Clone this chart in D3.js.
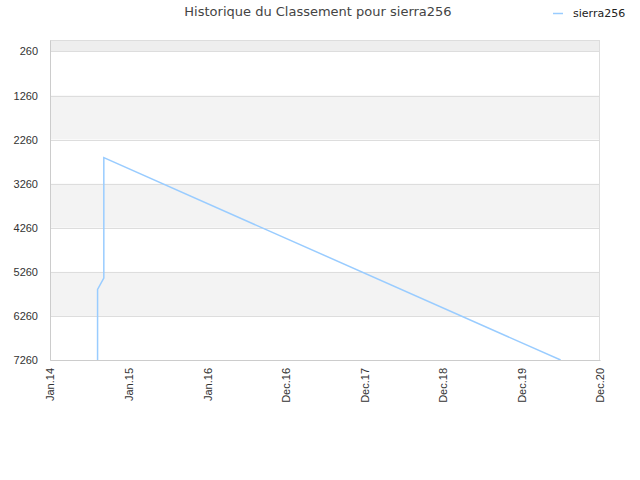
<!DOCTYPE html>
<html>
<head>
<meta charset="utf-8">
<script src="https://cdn.jsdelivr.net/npm/d3@7"></script>
<style>
  body { margin: 0; background: #fff; }
  svg { font-family: "DejaVu Sans", sans-serif; }
</style>
</head>
<body>
<div id="chart"></div>
<script>
// Rank history for sierra256 (lower rank = better, axis reversed)
const dates = ["2014-08-10", "2014-08-10", "2014-09-08", "2014-09-08", "2020-06-30"];
const ranks = [7260, 5660, 5400, 2670, 7260];
const yTicks = [260, 1260, 2260, 3260, 4260, 5260, 6260, 7260];
const xTickDates = ["2014-01-01", "2015-01-01", "2016-01-01", "2016-12-31", "2017-12-31", "2018-12-31", "2019-12-31", "2020-12-30"];
const xTickLabels = ["Jan.14", "Jan.15", "Jan.16", "Dec.16", "Dec.17", "Dec.18", "Dec.19", "Dec.20"];

const width = 640, height = 480;
const margin = { top: 40, right: 40, bottom: 120, left: 50 };
const parse = d3.utcParse("%Y-%m-%d");

const svg = d3.select("#chart").append("svg")
  .attr("width", width)
  .attr("height", height);

const x = d3.scaleUtc()
  .domain([parse(xTickDates[0]), parse(xTickDates[xTickDates.length - 1])])
  .range([margin.left, width - margin.right]);

const y = d3.scaleLinear()
  .domain([0, 7260])
  .range([margin.top, height - margin.bottom]);

// Background stripes
const bands = [[0, 260]];
for (let i = 0; i < yTicks.length - 1; i++) bands.push([yTicks[i], yTicks[i + 1]]);
svg.append("g").selectAll("rect")
  .data(bands)
  .enter().append("rect")
  .attr("x", margin.left)
  .attr("width", width - margin.right - margin.left)
  .attr("y", d => y(d[0]))
  .attr("height", d => y(d[1]) - y(d[0]))
  .attr("fill", (d, i) => i === 0 ? "#eeeeee" : (i % 2 === 0 ? "#f3f3f3" : "#ffffff"));

// Grid lines
svg.append("g").selectAll("line")
  .data(yTicks)
  .enter().append("line")
  .attr("x1", margin.left)
  .attr("x2", width - margin.right)
  .attr("y1", d => Math.round(y(d)) + 0.5)
  .attr("y2", d => Math.round(y(d)) + 0.5)
  .attr("stroke", "#dddddd");

// Plot border
svg.append("rect")
  .attr("x", margin.left + 0.5)
  .attr("y", margin.top + 0.5)
  .attr("width", width - margin.right - margin.left - 1)
  .attr("height", height - margin.bottom - margin.top)
  .attr("fill", "none")
  .attr("stroke", "#dddddd");

// Y axis
const yAxis = svg.append("g")
  .attr("transform", `translate(${margin.left},0)`)
  .call(d3.axisLeft(y).tickValues(yTicks).tickSize(0).tickPadding(12).tickFormat(d3.format("d")));
yAxis.select(".domain").attr("stroke", "#cccccc");
yAxis.selectAll("text").attr("fill", "#333").style("font-size", "11px");

// X axis
const xAxis = svg.append("g")
  .attr("transform", `translate(0,${height - margin.bottom})`)
  .call(d3.axisBottom(x).tickValues(xTickDates.map(parse)).tickSize(0)
    .tickFormat((d, i) => xTickLabels[i]));
xAxis.select(".domain").attr("stroke", "#cccccc");
xAxis.selectAll("text")
  .attr("fill", "#333")
  .style("font-size", "11px")
  .attr("text-anchor", "end")
  .attr("transform", "rotate(-90)")
  .attr("x", -8)
  .attr("y", 0)
  .attr("dy", "0.35em");

// Line
svg.append("clipPath").attr("id", "clip")
  .append("rect")
  .attr("x", margin.left).attr("y", margin.top)
  .attr("width", width - margin.right - margin.left)
  .attr("height", height - margin.bottom - margin.top);

const points = dates.map((d, i) => [parse(d), ranks[i]]);
svg.append("path")
  .datum(points)
  .attr("clip-path", "url(#clip)")
  .attr("fill", "none")
  .attr("stroke", "#99ccff")
  .attr("stroke-width", 1.5)
  .attr("d", d3.line().x(d => x(d[0])).y(d => y(d[1])));

// Title
svg.append("text")
  .attr("x", 318)
  .attr("y", 16)
  .attr("text-anchor", "middle")
  .attr("fill", "#444")
  .style("font-size", "13px")
  .text("Historique du Classement pour sierra256");

// Legend
svg.append("line")
  .attr("x1", 553).attr("x2", 563)
  .attr("y1", 13.5).attr("y2", 13.5)
  .attr("stroke", "#99ccff")
  .attr("stroke-width", 1.5);
svg.append("text")
  .attr("x", 573)
  .attr("y", 17)
  .attr("fill", "#222")
  .style("font-size", "11px")
  .text("sierra256");
</script>
</body>
</html>
